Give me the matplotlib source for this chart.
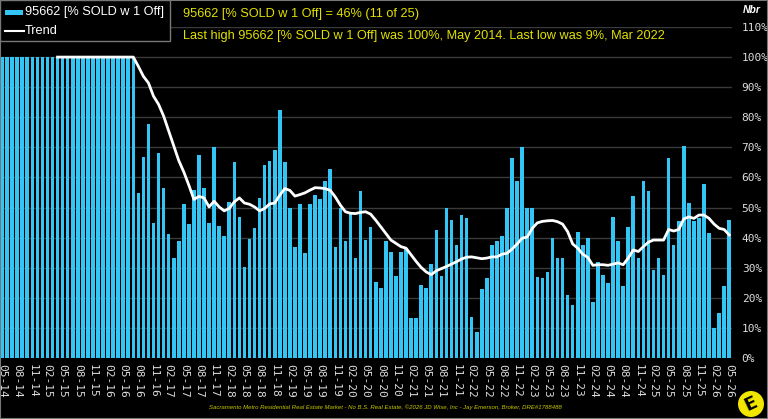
import numpy as np
import pandas as pd
import matplotlib.pyplot as plt
import matplotlib.patches as mpatches
from matplotlib.lines import Line2D

# meses de 05-2014 ate 05-2026
meses = pd.date_range('2014-05-01', '2026-05-01', freq='MS')
rotulos = [m.strftime('%m-%y') for m in meses]

# % vendido com 1 oferta
pct_vendido = [100] * 27 + [
    55.0, 66.7, 77.7, 44.7, 68.2, 56.5, 41.1, 33.3, 38.9, 51.2,
    44.4, 55.8, 67.4, 56.5, 44.9, 70.2, 43.8, 40.7, 52.0, 65.1,
    46.7, 30.2, 39.5, 43.1, 53.3, 64.2, 65.4, 69.1, 82.5, 65.0,
    49.9, 37.0, 51.2, 35.0, 51.3, 54.1, 52.9, 58.8, 62.9, 37.0,
    49.9, 38.9, 47.8, 33.3, 55.5, 39.1, 43.7, 25.4, 23.3, 39.0,
    35.3, 27.4, 35.3, 36.5, 13.4, 13.2, 24.4, 23.3, 31.2, 42.7,
    27.4, 49.9, 45.9, 37.5, 47.4, 46.4, 13.7, 8.6, 22.9, 26.7,
    37.5, 38.9, 40.5, 50.0, 66.6, 58.8, 70.0, 50.0, 50.0, 27.0,
    26.7, 28.6, 40.0, 33.3, 33.3, 21.0, 17.6, 42.0, 37.5, 40.0,
    18.7, 31.8, 27.7, 25.0, 47.0, 39.0, 24.0, 43.4, 53.7, 33.3,
    58.9, 55.5, 29.3, 33.3, 27.6, 66.6, 37.5, 45.5, 70.5, 51.4,
    45.5, 46.4, 57.8, 41.6, 10.0, 15.0, 24.0, 46.0]

# linha de tendencia (comeca em 04-15)
tendencia = [100] * 16 + [
    96.9, 93.6, 91.4, 87.0, 84.3, 80.4, 75.5, 70.5, 65.6, 61.8,
    57.4, 52.7, 53.7, 53.2, 50.2, 52.1, 50.2, 48.9, 49.7, 51.9,
    53.2, 51.5, 51.1, 50.2, 48.9, 49.7, 51.2, 51.5, 54.1, 56.3,
    55.7, 53.8, 54.3, 54.9, 55.8, 56.6, 56.5, 56.3, 55.7, 53.5,
    50.8, 48.6, 48.1, 48.0, 48.4, 48.6, 47.8, 45.8, 43.6, 41.4,
    39.2, 38.1, 37.0, 36.5, 34.3, 32.1, 30.1, 28.6, 27.7, 29.0,
    29.7, 30.4, 31.2, 32.0, 32.9, 33.5, 33.6, 33.3, 33.0, 33.2,
    33.6, 33.6, 34.5, 34.8, 36.2, 37.9, 39.8, 40.2, 43.1, 44.9,
    45.4, 45.6, 45.7, 45.3, 44.5, 42.0, 37.9, 36.5, 34.5, 33.4,
    30.8, 31.0, 31.0, 30.8, 31.2, 31.6, 31.0, 33.2, 35.9, 35.4,
    37.0, 38.5, 39.2, 39.2, 39.2, 42.7, 42.2, 42.7, 46.2, 46.9,
    46.4, 47.5, 47.5, 46.4, 44.5, 43.1, 42.7, 40.9]

titulo1 = '95662 [% SOLD w 1 Off] = 46% (11 of 25)'
titulo2 = ('Last high 95662 [% SOLD w 1 Off] was 100%, May 2014. '
           'Last low was 9%, Mar 2022')
rodape = ('Sacramento Metro Residential Real Estate Market - No B.S. Real Estate, '
          '\u00a92026 JD Wise, Inc - Jay Emerson, Broker, DRE#1788488')

W, H = 768, 419
azul = '#33c6f4'
amarelo = '#e2e200'
cinza = '#dddddd'

fig = plt.figure(figsize=(W / 100, H / 100), dpi=100, facecolor='black')
ax = fig.add_axes([0, 1 - 358 / H, 732 / W, (358 - 27) / H])
ax.set_facecolor('black')

x = np.arange(len(pct_vendido))
ax.bar(x, pct_vendido, width=0.72, color=azul, zorder=2)
ax.plot(x[11:], tendencia, color='white', lw=2.0, zorder=3)

ax.set_xlim(-0.4, 144.55)
ax.set_ylim(0, 110)
ax.set_yticks(range(0, 111, 10))
ax.set_yticklabels([f'{v}%' for v in range(0, 111, 10)])
ax.yaxis.tick_right()
ax.grid(axis='y', color='#3a3a3a', lw=1, zorder=0)
ax.set_axisbelow(True)
ax.set_xticks(x[::3])
ax.set_xticklabels(rotulos[::3], rotation=270)
ax.tick_params(length=0, colors=cinza, labelsize=8)
ax.tick_params(axis='y', pad=7)
ax.tick_params(axis='x', pad=4)
for t in ax.get_xticklabels() + ax.get_yticklabels():
    t.set_family('DejaVu Sans Mono')
for s in ax.spines.values():
    s.set_visible(False)

# caixa de legenda
fig.add_artist(mpatches.Rectangle((0, 1 - 41 / H), 170 / W, 41 / H,
                                  transform=fig.transFigure, facecolor='black',
                                  edgecolor='#777777', lw=1, zorder=5))
fig.add_artist(mpatches.Rectangle((5 / W, 1 - 15 / H), 18 / W, 5 / H,
                                  transform=fig.transFigure, facecolor=azul,
                                  edgecolor='none', zorder=6))
fig.add_artist(Line2D([5 / W, 24 / W], [1 - 31 / H, 1 - 31 / H],
                      transform=fig.transFigure, color='white', lw=1.5, zorder=6))
fig.text(25 / W, 1 - 12 / H, '95662 [% SOLD w 1 Off]', color='white',
         fontsize=9.2, family='Liberation Sans', va='center', zorder=6)
fig.text(25 / W, 1 - 31 / H, 'Trend', color='white',
         fontsize=9.2, family='Liberation Sans', va='center', zorder=6)

# titulos amarelos
fig.text(183 / W, 1 - 14 / H, titulo1, color=amarelo, fontsize=9.2,
         family='Liberation Sans', va='center')
fig.text(183 / W, 1 - 36 / H, titulo2, color=amarelo, fontsize=9.2,
         family='Liberation Sans', va='center')
fig.text(743 / W, 1 - 10 / H, 'Nbr', color='white', fontsize=7.5,
         family='Liberation Sans', weight='bold', style='italic', va='center')

# rodape e logo
fig.text(385 / W, 1 - 407 / H, rodape, color='#c8c800', fontsize=4.3,
         family='Liberation Sans', style='italic', ha='center', va='center')
fig.add_artist(mpatches.Ellipse((751 / W, 1 - 404 / H), 26 / W, 26 / H,
                                transform=fig.transFigure, facecolor='#f2e600',
                                edgecolor='none'))
fig.text(751 / W, 1 - 404 / H, 'E', color='black', fontsize=13, weight='bold',
         rotation=25, ha='center', va='center')

# borda da figura
fig.add_artist(mpatches.Rectangle((0, 0), 1, 1, transform=fig.transFigure,
                                  facecolor='none', edgecolor='#777777', lw=1.5))

fig.savefig('out.png', dpi=100, facecolor='black')
